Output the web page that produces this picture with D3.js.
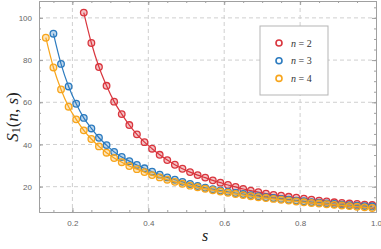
<!DOCTYPE html>
<html>
<head>
<meta charset="utf-8">
<script src="https://cdn.jsdelivr.net/npm/d3@7"></script>
<style>
  body { margin: 0; background: #fff; }
  .tick-label { font-family: "Liberation Sans", Arial, sans-serif; font-size: 8px; fill: #666; }
  .math { font-family: "Liberation Serif", "DejaVu Serif", serif; }
</style>
</head>
<body>
<div id="chart"></div>
<script>
// s values for each series (step 0.02)
var sRed = d3.range(23, 100, 2).map(function(d) { return d / 100; });
var sBlue = d3.range(15, 100, 2).map(function(d) { return d / 100; });
var sOrange = d3.range(13, 100, 2).map(function(d) { return d / 100; });

// values
var valRed = [102.5, 88.1, 76.7, 67.8, 60.3, 54.4, 49.2, 44.8, 41.1, 38.0,
  35.1, 32.6, 30.4, 28.5, 26.9, 25.5, 24.3, 23.0, 21.9, 20.8,
  19.9, 18.9, 18.1, 17.4, 16.7, 16.1, 15.7, 15.2, 14.8, 14.3,
  13.8, 13.4, 13.0, 12.6, 12.3, 12.0, 11.8, 11.5, 11.3];
var valBlue = [92.5, 78.2, 67.5, 59.3, 52.6, 47.6, 43.2, 39.7, 36.5, 34.1,
  32.1, 30.3, 28.7, 27.1, 25.7, 24.4, 23.3, 22.3, 21.3, 20.3,
  19.5, 18.8, 18.2, 17.6, 17.0, 16.5, 16.0, 15.5, 15.0, 14.6,
  14.2, 13.8, 13.4, 13.1, 12.7, 12.4, 12.1, 11.8, 11.5, 11.2,
  11.0, 10.8, 10.6];
var valOrange = [90.6, 76.5, 66.1, 57.9, 51.9, 46.7, 42.6, 39.1, 36.1, 33.6,
  31.6, 29.8, 28.3, 26.9, 25.5, 24.4, 23.3, 22.3, 21.4, 20.5,
  19.7, 19.0, 18.3, 17.7, 17.1, 16.5, 16.0, 15.5, 15.0, 14.6,
  14.2, 13.8, 13.4, 13.0, 12.6, 12.3, 12.0, 11.7, 11.4, 11.1,
  10.8, 10.5, 10.2, 9.9];

var labels = ["2", "3", "4"];
var colors = ["#d9363e", "#2c7bbf", "#f7a51c"];

var xTicks = [0.2, 0.4, 0.6, 0.8, 1.0];
var yTicks = [20, 40, 60, 80, 100];

var series = [
  { n: labels[0], color: colors[0], pts: d3.zip(sRed, valRed) },
  { n: labels[1], color: colors[1], pts: d3.zip(sBlue, valBlue) },
  { n: labels[2], color: colors[2], pts: d3.zip(sOrange, valOrange) }
];

var W = 381, H = 249;
var margin = { top: 1, right: 5, bottom: 37, left: 39 },
    width = W - margin.left - margin.right,
    height = H - margin.top - margin.bottom;

var x = d3.scaleLinear().domain([0.112, 1.0]).range([0, width]);
var y = d3.scaleLinear().domain([8, 108]).range([height, 0]);

var svg = d3.select("#chart").append("svg")
    .attr("width", W)
    .attr("height", H);

var g = svg.append("g")
    .attr("transform", "translate(" + margin.left + "," + margin.top + ")");

// dashed grid
g.selectAll(".vgrid").data(xTicks.slice(0, 4)).enter().append("line")
    .attr("x1", function(d) { return x(d); }).attr("x2", function(d) { return x(d); })
    .attr("y1", 0).attr("y2", height)
    .attr("stroke", "#cfcfcf").attr("stroke-width", 1).attr("stroke-dasharray", "4,3");
g.selectAll(".hgrid").data(yTicks).enter().append("line")
    .attr("y1", function(d) { return y(d); }).attr("y2", function(d) { return y(d); })
    .attr("x1", 0).attr("x2", width)
    .attr("stroke", "#cfcfcf").attr("stroke-width", 1).attr("stroke-dasharray", "4,3");

// frame axes, ticks inward on all four sides
var frameColor = "#a0a0a0";
var xMinor = d3.range(15, 100, 5).map(function(d) { return d / 100; });
var yMinor = d3.range(10, 106, 5);

function styleAxis(sel) {
  sel.select(".domain").attr("stroke", frameColor);
  sel.selectAll(".tick line").attr("stroke", frameColor);
  sel.selectAll(".tick text").attr("class", "tick-label").attr("fill", null);
}

g.append("g").attr("transform", "translate(0," + height + ")")
    .call(d3.axisBottom(x).tickValues(xMinor).tickSize(-2).tickFormat("").tickSizeOuter(0))
    .call(styleAxis);
g.append("g").attr("transform", "translate(0," + height + ")")
    .call(d3.axisBottom(x).tickValues(xTicks).tickSize(-4).tickPadding(8).tickFormat(d3.format(".1f")).tickSizeOuter(0))
    .call(styleAxis);
g.append("g")
    .call(d3.axisTop(x).tickValues(xMinor).tickSize(-2).tickFormat("").tickSizeOuter(0))
    .call(styleAxis);
g.append("g")
    .call(d3.axisTop(x).tickValues(xTicks).tickSize(-4).tickFormat("").tickSizeOuter(0))
    .call(styleAxis);

g.append("g")
    .call(d3.axisLeft(y).tickValues(yMinor).tickSize(-2).tickFormat("").tickSizeOuter(0))
    .call(styleAxis);
g.append("g")
    .call(d3.axisLeft(y).tickValues(yTicks).tickSize(-4).tickPadding(7).tickSizeOuter(0))
    .call(styleAxis);
g.append("g").attr("transform", "translate(" + width + ",0)")
    .call(d3.axisRight(y).tickValues(yMinor).tickSize(-2).tickFormat("").tickSizeOuter(0))
    .call(styleAxis);
g.append("g").attr("transform", "translate(" + width + ",0)")
    .call(d3.axisRight(y).tickValues(yTicks).tickSize(-4).tickFormat("").tickSizeOuter(0))
    .call(styleAxis);

// lines and markers
var line = d3.line()
    .x(function(d) { return x(d[0]); })
    .y(function(d) { return y(d[1]); })
    .curve(d3.curveMonotoneX);

series.forEach(function(s) {
  g.append("path")
      .datum(s.pts)
      .attr("fill", "none")
      .attr("stroke", s.color)
      .attr("stroke-width", 1.2)
      .attr("d", line);
  g.selectAll(null)
      .data(s.pts)
      .enter().append("circle")
      .attr("cx", function(d) { return x(d[0]); })
      .attr("cy", function(d) { return y(d[1]); })
      .attr("r", 3.3)
      .attr("fill", s.color)
      .attr("fill-opacity", 0.3)
      .attr("stroke", s.color)
      .attr("stroke-width", 1.3);
});

// legend
var leg = svg.append("g").attr("transform", "translate(260,26)");
leg.append("rect")
    .attr("width", 68).attr("height", 69)
    .attr("fill", "#fff").attr("stroke", "#b5b5b5").attr("stroke-width", 1);
series.forEach(function(s, i) {
  var yy = 17 + i * 17.7;
  leg.append("circle")
      .attr("cx", 19).attr("cy", yy).attr("r", 3)
      .attr("fill", "#fff").attr("stroke", s.color).attr("stroke-width", 1.6);
  var t = leg.append("text").attr("class", "math")
      .attr("x", 31).attr("y", yy + 3.5)
      .attr("font-size", 10).attr("fill", "#333");
  t.append("tspan").attr("font-style", "italic").text("n");
  t.append("tspan").text(" = " + s.n);
});

// axis titles
svg.append("text").attr("class", "math")
    .attr("x", margin.left + x(0.55)).attr("y", 241)
    .attr("text-anchor", "middle").attr("font-size", 16).attr("fill", "#222")
    .attr("font-style", "italic").text("s");

var yt = svg.append("text").attr("class", "math")
    .attr("transform", "translate(18,117) rotate(-90)")
    .attr("text-anchor", "middle").attr("font-size", 17).attr("fill", "#222");
yt.append("tspan").attr("font-style", "italic").text("S");
yt.append("tspan").attr("font-size", 12).attr("dy", 2).text("1");
yt.append("tspan").attr("dy", -2).text("(");
yt.append("tspan").attr("font-style", "italic").text("n");
yt.append("tspan").text(", ");
yt.append("tspan").attr("font-style", "italic").text("s");
yt.append("tspan").text(")");
</script>
</body>
</html>
